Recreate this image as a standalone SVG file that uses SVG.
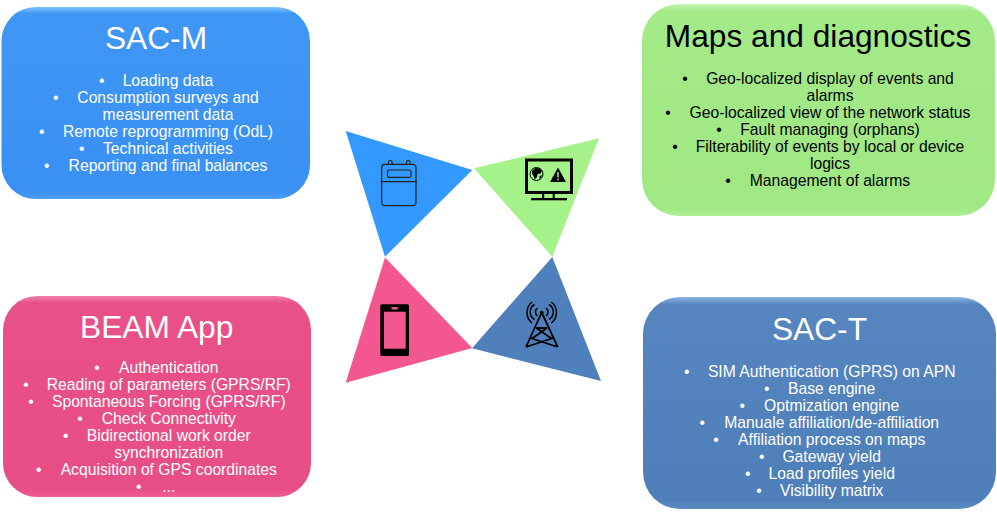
<svg xmlns="http://www.w3.org/2000/svg" width="997" height="514" viewBox="0 0 997 514">
<style>
text{font-family:"Liberation Sans",Arial,sans-serif;text-anchor:middle}
.t{font-size:31.7px}
.b{font-size:15.7px}
.w{fill:#fff}
.k{fill:#000}
.ln{fill:none;stroke:#000}
</style>
<defs>
<linearGradient id="gb" x1="0" y1="0" x2="0" y2="1"><stop offset="0" stop-color="#7cc4fb"/><stop offset=".035" stop-color="#3f96f3"/><stop offset=".96" stop-color="#3a90f3"/><stop offset="1" stop-color="#4a9ff5"/></linearGradient>
<linearGradient id="gg" x1="0" y1="0" x2="0" y2="1"><stop offset="0" stop-color="#c4f5b0"/><stop offset=".035" stop-color="#a3ea88"/><stop offset=".96" stop-color="#a0e883"/><stop offset="1" stop-color="#aef096"/></linearGradient>
<linearGradient id="gp" x1="0" y1="0" x2="0" y2="1"><stop offset="0" stop-color="#f280ac"/><stop offset=".035" stop-color="#e85088"/><stop offset=".96" stop-color="#e84e86"/><stop offset="1" stop-color="#ee5c92"/></linearGradient>
<linearGradient id="gs" x1="0" y1="0" x2="0" y2="1"><stop offset="0" stop-color="#8db3e2"/><stop offset=".035" stop-color="#5685bf"/><stop offset=".96" stop-color="#4f7fb9"/><stop offset="1" stop-color="#5c8cc4"/></linearGradient>
</defs>

<g id="sac-m">
<rect x="1.5" y="7" width="308.5" height="192" rx="34" fill="url(#gb)"/>
<text class="t w" x="156" y="48.5">SAC-M</text>
<g class="b w">
<text x="168" y="85.7">Loading data</text><text x="101.7" y="85.7">•</text>
<text x="168" y="102.7">Consumption surveys and</text><text x="55.7" y="102.7">•</text>
<text x="168" y="119.7">measurement data</text>
<text x="168" y="136.7">Remote reprogramming (OdL)</text><text x="41.700" y="136.7">•</text>
<text x="168" y="153.7">Technical activities</text><text x="81.7" y="153.7">•</text>
<text x="168" y="170.7">Reporting and final balances</text><text x="46.7" y="170.7">•</text>
</g>
</g>

<g id="maps">
<rect x="642" y="4" width="353" height="212" rx="37" fill="url(#gg)"/>
<text class="t k" x="818" y="46.7">Maps and diagnostics</text>
<g class="b k">
<text x="830" y="83.5">Geo-localized display of events and</text><text x="685" y="83.5">•</text>
<text x="830" y="100.5">alarms</text>
<text x="830" y="117.5">Geo-localized view of the network status</text><text x="668" y="117.5">•</text>
<text x="830" y="134.5">Fault managing (orphans)</text><text x="719" y="134.5">•</text>
<text x="830" y="151.5">Filterability of events by local or device</text><text x="675" y="151.5">•</text>
<text x="830" y="168.5">logics</text>
<text x="830" y="185.5">Management of alarms</text><text x="728" y="185.5">•</text>
</g>
</g>

<g id="beam">
<rect x="3" y="296" width="308" height="201" rx="34" fill="url(#gp)"/>
<text class="t w" x="156.7" y="337.7">BEAM App</text>
<g class="b w">
<text x="168.8" y="373.3">Authentication</text><text x="97" y="373.3">•</text>
<text x="168.8" y="390.3">Reading of parameters (GPRS/RF)</text><text x="26" y="390.3">•</text>
<text x="168.8" y="407.3">Spontaneous Forcing (GPRS/RF)</text><text x="31" y="407.3">•</text>
<text x="168.8" y="424.3">Check Connectivity</text><text x="80" y="424.3">•</text>
<text x="168.8" y="441.3">Bidirectional work order</text><text x="65.7" y="441.3">•</text>
<text x="168.8" y="458">synchronization</text>
<text x="168.8" y="475">Acquisition of GPS coordinates</text><text x="38.7" y="475">•</text>
<text x="168.8" y="492">...</text><text x="138.7" y="492">•</text>
</g>
</g>

<g id="sac-t">
<rect x="643" y="297" width="353" height="212" rx="37" fill="url(#gs)"/>
<text class="t w" x="819.5" y="340">SAC-T</text>
<g class="b w">
<text x="831.7" y="376.7">SIM Authentication (GPRS) on APN</text><text x="686.7" y="376.7">•</text>
<text x="831.7" y="393.7">Base engine</text><text x="766.7" y="393.7">•</text>
<text x="831.7" y="410.7">Optmization engine</text><text x="742.3" y="410.7">•</text>
<text x="831.7" y="427.7">Manuale affiliation/de-affiliation</text><text x="702.3" y="427.7">•</text>
<text x="831.7" y="444.7">Affiliation process on maps</text><text x="716" y="444.7">•</text>
<text x="831.7" y="461.7">Gateway yield</text><text x="761.7" y="461.7">•</text>
<text x="831.7" y="478.7">Load profiles yield</text><text x="747.7" y="478.7">•</text>
<text x="831.7" y="495.7">Visibility matrix</text><text x="759" y="495.7">•</text>
</g>
</g>

<g id="tri-meter">
<polygon points="345.7,131 472.3,170 385,256.7" fill="#3399ff"/>
<g fill="none" stroke="#222" stroke-width="1.2">
<rect x="381.7" y="164.3" width="34.3" height="41.4" rx="3.5"/>
<rect x="387.5" y="170" width="23.5" height="7.3" rx="1.5"/>
<path d="M388.5 164.3v-2a1.8 1.8 0 0 1 3.6 0v2M406.5 164.3v-2a1.8 1.8 0 0 1 3.6 0v2M380.5 181.7h36.5"/>
</g>
</g>

<g id="tri-monitor">
<polygon points="599,138.3 474,168.3 552.3,256.7" fill="#a6f28a"/>
<rect x="526.5" y="160" width="45" height="32.500" fill="none" stroke="#000" stroke-width="3"/>
<path d="M543.2 194v5M553.7 194v5" class="ln" stroke-width="2"/>
<rect x="531" y="198" width="36" height="2.300" fill="#000"/>
<circle cx="536.500" cy="174" r="6.500" fill="none" stroke="#000" stroke-width="1"/>
<path d="M532 171l3.500-3 4.500.5 2 2.500-1.500 2.500-3 .5-.5 3-2.500 2.500-1-3.500-1.500-2.500zM539.500 176l2.500-.8-.8 2.500-1.700 1.300z" fill="#000"/>
<path d="M558 167.500l8 14.500h-16z" fill="#000"/>
<path d="M558 172v5.500M558 178.700v1.500" stroke="#a6f28a" stroke-width="1.500" fill="none"/>
</g>

<g id="tri-phone">
<polygon points="385,257.500 472.300,348 345.700,382.700" fill="#f2588f"/>
<rect x="380.300" y="304.300" width="28.700" height="51.700" rx="1.500" fill="#000"/>
<rect x="384" y="311.700" width="21.700" height="37" fill="#f2588f"/>
<rect x="391.300" y="307" width="6.700" height="2.400" rx="1" fill="#f2588f"/>
</g>

<g id="tri-tower">
<polygon points="552.300,257 472,348.300 601,381" fill="#5080bc"/>
<g class="ln" stroke-width="1.500">
<path d="M541.700 312.500L526 347M541.700 312.500L557.700 347M536.300 328H547.100M536.300 328L551.500 338.500L526 347M547.100 328L532 338.500L557.700 347" stroke-width="1.800"/>
<path d="M537.500 316a5 5 0 0 1 0-8M546 316a5 5 0 0 0 0-8M534.500 319.500a8.700 8.700 0 0 1 0-15M549 319.500a8.700 8.700 0 0 0 0-15M532 323a13.500 13.500 0 0 1 0-21M551.400 323a13.500 13.500 0 0 0 0-21"/>
</g>
<circle cx="541.700" cy="312.500" r="1.800" fill="#000"/>
</g>
</svg>
